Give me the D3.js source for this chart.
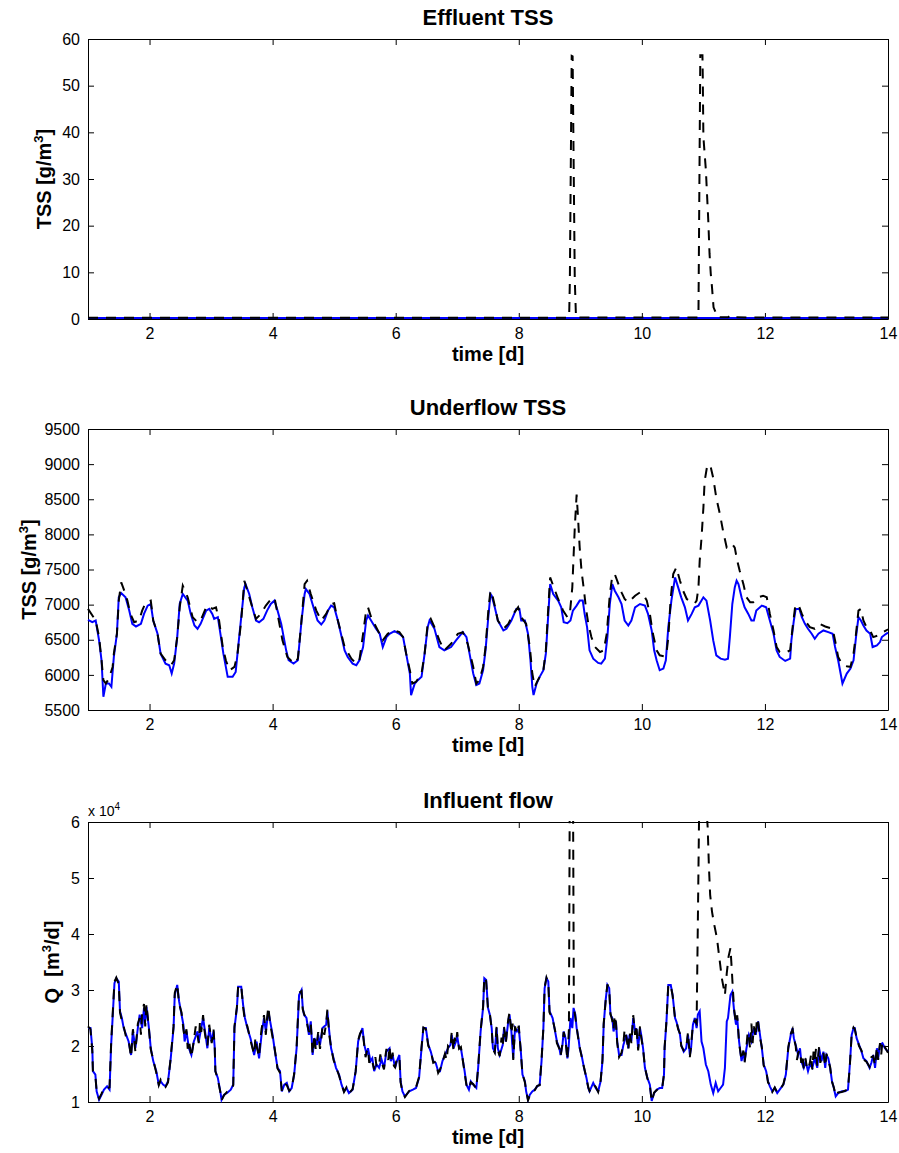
<!DOCTYPE html>
<html>
<head>
<meta charset="utf-8">
<script src="https://cdn.jsdelivr.net/npm/d3@7"></script>
<style>
  body { margin: 0; background: #fff; }
  svg { display: block; font-family: 'Liberation Sans', Arial, sans-serif; }
</style>
</head>
<body>
<div id="chart"></div>
<script>
// tick values
const timeTicks = [2, 4, 6, 8, 10, 12, 14]
const effluentTicks = [0, 10, 20, 30, 40, 50, 60]
const underflowTicks = [5500, 6000, 6500, 7000, 7500, 8000, 8500, 9000, 9500]
const flowTicks = [1, 2, 3, 4, 5, 6] // x 10^4 m3/d

// [time (d), TSS g/m3] - blue solid / black dashed
const effluentBlue = [[1, 0.2], [4, 0.2], [8.8, 0.2], [11, 0.2], [14, 0.2]]
const effluentBlack = [[1, 0.25], [8.80, 0.25], [8.82, 1.5], [8.83, 8], [8.86, 56.4], [8.875, 56.3],
  [8.91, 8.5], [8.93, 0.3], [10.91, 0.3], [10.92, 1], [10.95, 56.5], [10.985, 56.5], [10.99, 52],
  [11.0, 39], [11.04, 32], [11.08, 21], [11.10, 14], [11.12, 9.7], [11.14, 6.8], [11.165, 2.5],
  [11.23, 0.4], [11.40, 0.35], [11.45, 0.8], [11.50, 0.35], [14, 0.3]]

// [time (d), TSS g/m3]
const underflowBlue = [[1.00, 6783], [1.07, 6750], [1.125, 6774], [1.18, 6491], [1.22, 6208], [1.25, 5689],
  [1.29, 5877], [1.34, 5877], [1.38, 5830], [1.42, 6255], [1.47, 6585], [1.50, 7104], [1.54, 7165],
  [1.61, 7104], [1.67, 6915], [1.72, 6726], [1.78, 6689], [1.86, 6726], [1.91, 6868], [1.97, 6986],
  [2.02, 7009], [2.06, 6774], [2.13, 6585], [2.18, 6302], [2.26, 6160], [2.32, 6137], [2.36, 6019],
  [2.40, 6160], [2.45, 6538], [2.49, 7009], [2.54, 7151], [2.62, 7057], [2.67, 6868], [2.73, 6703],
  [2.78, 6656], [2.83, 6726], [2.92, 6915], [2.97, 6939], [3.02, 6868], [3.05, 6797], [3.11, 6821],
  [3.16, 6538], [3.20, 6302], [3.24, 6113], [3.27, 5972], [3.35, 5972], [3.40, 6042], [3.44, 6396],
  [3.49, 6821], [3.54, 7245], [3.56, 7292], [3.62, 7151], [3.67, 6962], [3.73, 6774], [3.78, 6750],
  [3.85, 6797], [3.91, 6915], [3.97, 7009], [4.03, 7057], [4.08, 6915], [4.14, 6726], [4.18, 6538],
  [4.22, 6349], [4.26, 6208], [4.34, 6160], [4.41, 6208], [4.43, 6396], [4.47, 6774], [4.52, 7151],
  [4.54, 7222], [4.60, 7151], [4.68, 6915], [4.73, 6774], [4.79, 6717], [4.84, 6774], [4.90, 6915],
  [4.95, 6986], [5.00, 6962], [5.06, 6774], [5.11, 6585], [5.17, 6349], [5.22, 6255], [5.30, 6160],
  [5.36, 6137], [5.41, 6208], [5.47, 6396], [5.52, 6774], [5.55, 6845], [5.60, 6774], [5.68, 6656],
  [5.74, 6585], [5.79, 6396], [5.85, 6538], [5.90, 6585], [5.98, 6623], [6.06, 6585], [6.12, 6538],
  [6.17, 6302], [6.23, 6019], [6.25, 5712], [6.31, 5877], [6.36, 5925], [6.42, 5972], [6.47, 6302],
  [6.52, 6680], [6.55, 6774], [6.63, 6656], [6.71, 6396], [6.79, 6349], [6.90, 6396], [6.98, 6491],
  [7.09, 6608], [7.15, 6538], [7.20, 6302], [7.26, 6019], [7.31, 5855], [7.36, 5877], [7.42, 6066],
  [7.46, 6349], [7.50, 6774], [7.54, 7151], [7.56, 7127], [7.61, 6962], [7.66, 6774], [7.75, 6632],
  [7.80, 6656], [7.88, 6774], [7.96, 6939], [8.01, 6939], [8.04, 6774], [8.10, 6774], [8.15, 6585],
  [8.19, 6208], [8.22, 5830], [8.24, 5712], [8.29, 5877], [8.34, 5972], [8.40, 6066], [8.44, 6302],
  [8.48, 6868], [8.51, 7292], [8.56, 7151], [8.64, 7057], [8.69, 6962], [8.73, 6750], [8.79, 6736],
  [8.84, 6774], [8.88, 6915], [8.94, 6986], [8.99, 7057], [9.04, 7057], [9.07, 6868], [9.11, 6679],
  [9.15, 6349], [9.21, 6231], [9.29, 6170], [9.34, 6160], [9.40, 6231], [9.44, 6538], [9.48, 7009],
  [9.52, 7292], [9.56, 7198], [9.62, 7104], [9.67, 7009], [9.72, 6774], [9.78, 6703], [9.83, 6774],
  [9.89, 6962], [9.97, 7009], [10.05, 6986], [10.10, 6868], [10.16, 6632], [10.20, 6349], [10.24, 6208],
  [10.29, 6066], [10.35, 6090], [10.39, 6208], [10.43, 6679], [10.48, 7057], [10.54, 7387], [10.59, 7245],
  [10.64, 7104], [10.70, 6962], [10.75, 6774], [10.81, 6868], [10.86, 6962], [10.92, 6986], [11.00, 7104],
  [11.05, 7057], [11.11, 6774], [11.16, 6491], [11.21, 6278], [11.28, 6231], [11.35, 6217], [11.40, 6231],
  [11.43, 6538], [11.47, 7009], [11.51, 7245], [11.54, 7340], [11.57, 7292], [11.62, 7104], [11.67, 6962],
  [11.73, 6868], [11.78, 6774], [11.82, 6774], [11.86, 6915], [11.95, 6986], [12.02, 6962], [12.08, 6774],
  [12.14, 6585], [12.19, 6349], [12.24, 6255], [12.33, 6198], [12.41, 6231], [12.43, 6491], [12.47, 6774],
  [12.50, 6939], [12.56, 6939], [12.60, 6821], [12.65, 6726], [12.70, 6656], [12.76, 6585], [12.81, 6514],
  [12.87, 6585], [12.95, 6632], [13.03, 6608], [13.10, 6585], [13.14, 6396], [13.19, 6208], [13.23, 6019],
  [13.26, 5877], [13.33, 6019], [13.39, 6090], [13.44, 6208], [13.48, 6538], [13.52, 6821], [13.56, 6774],
  [13.60, 6703], [13.65, 6632], [13.71, 6585], [13.75, 6396], [13.82, 6420], [13.87, 6467], [13.90, 6538],
  [13.97, 6585], [14.00, 6600]]

const underflowBlack = [[1.00, 6939], [1.125, 6774], [1.18, 6538], [1.22, 6208], [1.25, 5925], [1.29, 5877],
  [1.34, 5948], [1.40, 6113], [1.42, 6302], [1.47, 6585], [1.50, 7057], [1.54, 7316], [1.59, 7198],
  [1.64, 7057], [1.69, 6868], [1.75, 6750], [1.83, 6774], [1.88, 6915], [1.94, 7033], [2.02, 7057],
  [2.06, 6774], [2.13, 6585], [2.18, 6302], [2.26, 6208], [2.35, 6137], [2.40, 6208], [2.45, 6538],
  [2.49, 6962], [2.54, 7269], [2.62, 7104], [2.70, 6821], [2.78, 6750], [2.83, 6774], [2.92, 6962],
  [2.97, 6986], [3.02, 6939], [3.08, 6962], [3.13, 6774], [3.19, 6396], [3.24, 6208], [3.30, 6066],
  [3.38, 6113], [3.43, 6302], [3.49, 6774], [3.54, 7340], [3.59, 7198], [3.67, 6962], [3.73, 6797],
  [3.81, 6868], [3.89, 6986], [4.00, 7104], [4.04, 7057], [4.08, 6868], [4.16, 6491], [4.24, 6255],
  [4.35, 6160], [4.41, 6231], [4.46, 6679], [4.52, 7292], [4.56, 7340], [4.62, 7151], [4.71, 6915],
  [4.79, 6774], [4.87, 6868], [4.95, 7009], [5.00, 7019], [5.06, 6774], [5.17, 6396], [5.28, 6231],
  [5.36, 6160], [5.41, 6208], [5.47, 6585], [5.52, 6915], [5.55, 6962], [5.60, 6821], [5.71, 6632],
  [5.79, 6491], [5.87, 6585], [5.98, 6632], [6.06, 6608], [6.12, 6538], [6.17, 6302], [6.23, 6066],
  [6.27, 5877], [6.33, 5901], [6.42, 6019], [6.47, 6302], [6.52, 6726], [6.57, 6797], [6.63, 6679],
  [6.71, 6491], [6.79, 6349], [6.90, 6443], [7.01, 6585], [7.09, 6608], [7.17, 6443], [7.26, 6113],
  [7.31, 5877], [7.36, 5925], [7.42, 6113], [7.46, 6396], [7.51, 6962], [7.54, 7198], [7.56, 7175],
  [7.61, 6986], [7.66, 6774], [7.75, 6656], [7.83, 6726], [7.91, 6868], [7.99, 6962], [8.04, 6821],
  [8.12, 6726], [8.18, 6396], [8.22, 6019], [8.26, 5830], [8.31, 5925], [8.40, 6066], [8.44, 6349],
  [8.48, 6962], [8.51, 7387], [8.57, 7245], [8.64, 7080], [8.72, 6915], [8.79, 6821], [8.83, 6868],
  [8.87, 7245], [8.91, 8094], [8.94, 8566], [8.96, 8283], [8.99, 7811], [9.02, 7481], [9.06, 7198],
  [9.09, 6962], [9.13, 6726], [9.18, 6538], [9.24, 6396], [9.32, 6325], [9.38, 6349], [9.43, 6585],
  [9.48, 7151], [9.52, 7410], [9.56, 7434], [9.62, 7292], [9.67, 7175], [9.72, 7080], [9.78, 7033],
  [9.89, 7127], [9.97, 7175], [10.02, 7151], [10.08, 7057], [10.13, 6868], [10.18, 6585], [10.24, 6349],
  [10.29, 6278], [10.37, 6264], [10.40, 6302], [10.43, 6538], [10.47, 7104], [10.51, 7434], [10.56, 7528],
  [10.62, 7340], [10.67, 7198], [10.73, 7080], [10.81, 7033], [10.86, 7019], [10.89, 7057], [10.92, 7245],
  [10.94, 7623], [10.97, 7953], [11.00, 8377], [11.02, 8755], [11.06, 8967], [11.11, 8991], [11.16, 8802],
  [11.21, 8519], [11.27, 8283], [11.32, 8047], [11.38, 7811], [11.42, 7811], [11.47, 7858], [11.51, 7811],
  [11.55, 7623], [11.59, 7481], [11.65, 7292], [11.70, 7104], [11.76, 7033], [11.81, 7033], [11.89, 7104],
  [11.97, 7127], [12.03, 7104], [12.08, 6868], [12.14, 6632], [12.19, 6396], [12.24, 6325], [12.35, 6325],
  [12.41, 6349], [12.45, 6679], [12.49, 6962], [12.54, 7009], [12.60, 6868], [12.65, 6774], [12.73, 6679],
  [12.81, 6656], [12.89, 6726], [12.98, 6689], [13.10, 6656], [13.14, 6491], [13.19, 6255], [13.25, 6160],
  [13.33, 6123], [13.39, 6113], [13.44, 6302], [13.48, 6585], [13.52, 6915], [13.56, 6939], [13.60, 6774],
  [13.65, 6679], [13.71, 6632], [13.76, 6538], [13.84, 6561], [13.92, 6608], [13.97, 6632], [14.00, 6650]]

// [time (d), Q x 10^4 m3/d]
const flowBlue = [[1.00, 2.32], [1.04, 2.32], [1.07, 1.96], [1.08, 1.55], [1.12, 1.49], [1.14, 1.19],
  [1.18, 1.04], [1.22, 1.13], [1.26, 1.22], [1.31, 1.28], [1.35, 1.22], [1.376, 2.02], [1.40, 2.50],
  [1.43, 3.12], [1.46, 3.21], [1.50, 3.15], [1.52, 2.62], [1.55, 2.50], [1.58, 2.32], [1.62, 2.20],
  [1.66, 2.08], [1.70, 1.84], [1.73, 2.26], [1.77, 1.96], [1.81, 2.32], [1.84, 2.56], [1.88, 2.32],
  [1.91, 2.68], [1.93, 2.44], [1.95, 2.70], [1.99, 2.32], [2.02, 1.96], [2.06, 1.73], [2.11, 1.55],
  [2.15, 1.31], [2.18, 1.37], [2.22, 1.31], [2.26, 1.28], [2.30, 1.37], [2.34, 1.73], [2.39, 2.32],
  [2.41, 2.91], [2.45, 3.09], [2.48, 2.80], [2.52, 2.56], [2.55, 2.38], [2.57, 2.08], [2.60, 2.26],
  [2.64, 1.96], [2.68, 1.84], [2.72, 2.08], [2.78, 2.26], [2.80, 2.08], [2.84, 2.32], [2.87, 2.50],
  [2.91, 2.20], [2.94, 1.96], [2.97, 2.32], [3.01, 2.08], [3.04, 2.26], [3.06, 1.96], [3.07, 1.55],
  [3.11, 1.43], [3.15, 1.19], [3.17, 1.04], [3.21, 1.13], [3.26, 1.16], [3.32, 1.22], [3.36, 1.31],
  [3.38, 2.32], [3.42, 2.68], [3.44, 3.06], [3.49, 3.06], [3.52, 2.74], [3.55, 2.50], [3.59, 2.32],
  [3.64, 2.14], [3.70, 1.84], [3.74, 2.08], [3.78, 1.78], [3.82, 2.20], [3.86, 2.50], [3.89, 2.26],
  [3.93, 2.62], [3.96, 2.44], [4.00, 2.20], [4.03, 1.96], [4.08, 1.61], [4.12, 1.55], [4.15, 1.19],
  [4.19, 1.31], [4.23, 1.34], [4.27, 1.19], [4.31, 1.25], [4.35, 1.49], [4.39, 1.96], [4.43, 2.91],
  [4.47, 3.00], [4.49, 2.68], [4.51, 2.56], [4.55, 2.50], [4.59, 2.20], [4.62, 2.44], [4.65, 1.84],
  [4.68, 2.14], [4.72, 2.02], [4.74, 2.20], [4.77, 2.02], [4.81, 2.32], [4.87, 2.38], [4.89, 2.62],
  [4.92, 2.26], [4.95, 1.96], [4.99, 1.78], [5.03, 1.61], [5.08, 1.49], [5.12, 1.31], [5.16, 1.19],
  [5.20, 1.25], [5.24, 1.16], [5.30, 1.22], [5.35, 1.55], [5.39, 2.08], [5.42, 2.20], [5.46, 2.32],
  [5.49, 2.02], [5.53, 1.84], [5.55, 1.96], [5.59, 1.73], [5.62, 1.78], [5.65, 1.55], [5.69, 1.67],
  [5.73, 1.61], [5.77, 1.76], [5.81, 1.61], [5.85, 1.90], [5.90, 1.96], [5.92, 1.73], [5.95, 1.84],
  [5.99, 1.61], [6.02, 1.73], [6.06, 1.84], [6.08, 1.37], [6.11, 1.19], [6.15, 1.10], [6.22, 1.19],
  [6.28, 1.22], [6.33, 1.25], [6.38, 1.43], [6.42, 1.96], [6.45, 2.32], [6.49, 2.32], [6.53, 2.02],
  [6.57, 1.90], [6.61, 1.73], [6.65, 1.70], [6.69, 1.55], [6.72, 1.55], [6.76, 1.73], [6.80, 1.84],
  [6.85, 1.96], [6.89, 2.02], [6.91, 2.20], [6.94, 1.96], [6.98, 2.08], [7.00, 2.17], [7.03, 1.96],
  [7.06, 1.96], [7.12, 1.55], [7.15, 1.31], [7.19, 1.22], [7.22, 1.37], [7.26, 1.31], [7.31, 1.25],
  [7.34, 1.61], [7.38, 2.26], [7.42, 2.68], [7.44, 3.21], [7.47, 3.18], [7.50, 2.68], [7.53, 2.56],
  [7.56, 2.32], [7.58, 1.96], [7.61, 1.90], [7.64, 2.32], [7.66, 1.96], [7.69, 1.84], [7.74, 2.02],
  [7.76, 2.32], [7.79, 2.08], [7.83, 2.44], [7.85, 2.56], [7.88, 2.26], [7.91, 1.78], [7.94, 2.32],
  [7.97, 2.26], [8.00, 2.32], [8.03, 1.96], [8.06, 1.49], [8.10, 1.37], [8.12, 1.19], [8.15, 1.04],
  [8.18, 1.13], [8.22, 1.19], [8.26, 1.22], [8.30, 1.28], [8.34, 1.31], [8.37, 1.73], [8.40, 2.32],
  [8.42, 3.03], [8.45, 3.21], [8.48, 3.15], [8.50, 2.62], [8.55, 2.50], [8.59, 2.26], [8.62, 2.08],
  [8.66, 1.96], [8.68, 1.84], [8.71, 2.02], [8.73, 2.26], [8.76, 2.14], [8.79, 1.78], [8.81, 1.96],
  [8.84, 2.50], [8.87, 2.32], [8.89, 2.68], [8.92, 2.56], [8.94, 2.32], [8.97, 2.14], [8.99, 1.96],
  [9.02, 1.84], [9.06, 1.61], [9.10, 1.43], [9.13, 1.25], [9.15, 1.19], [9.21, 1.34], [9.25, 1.25],
  [9.29, 1.19], [9.33, 1.37], [9.36, 1.73], [9.38, 2.38], [9.41, 2.80], [9.44, 3.09], [9.47, 3.03],
  [9.49, 2.56], [9.52, 2.50], [9.54, 2.26], [9.58, 2.44], [9.60, 2.08], [9.63, 1.84], [9.67, 1.84],
  [9.70, 2.02], [9.75, 2.20], [9.78, 1.96], [9.80, 2.20], [9.83, 2.08], [9.86, 2.50], [9.89, 2.26],
  [9.91, 2.32], [9.94, 1.96], [9.97, 2.32], [9.99, 2.20], [10.02, 1.96], [10.05, 1.61], [10.09, 1.43],
  [10.13, 1.31], [10.16, 1.02], [10.20, 1.16], [10.24, 1.22], [10.29, 1.25], [10.33, 1.25], [10.36, 1.49],
  [10.37, 1.96], [10.40, 2.44], [10.43, 3.09], [10.47, 3.09], [10.50, 2.91], [10.54, 2.50], [10.56, 2.44],
  [10.59, 2.32], [10.62, 2.20], [10.64, 2.02], [10.68, 1.90], [10.72, 1.96], [10.75, 2.20], [10.78, 1.84],
  [10.80, 1.96], [10.83, 2.38], [10.86, 2.50], [10.89, 2.32], [10.91, 2.56], [10.94, 2.62], [10.97, 2.08],
  [11.00, 1.96], [11.04, 1.67], [11.08, 1.55], [11.12, 1.31], [11.16, 1.16], [11.20, 1.34], [11.24, 1.19],
  [11.28, 1.25], [11.32, 1.31], [11.35, 1.61], [11.38, 2.44], [11.40, 2.50], [11.44, 2.91], [11.47, 2.97],
  [11.50, 2.62], [11.53, 2.38], [11.55, 2.50], [11.58, 2.08], [11.62, 1.73], [11.65, 1.90], [11.67, 1.73],
  [11.70, 1.96], [11.74, 2.20], [11.78, 2.08], [11.82, 2.32], [11.85, 2.20], [11.89, 2.44], [11.92, 2.20],
  [11.95, 1.96], [11.98, 1.67], [12.02, 1.55], [12.05, 1.37], [12.08, 1.28], [12.12, 1.19], [12.16, 1.25],
  [12.20, 1.16], [12.24, 1.22], [12.30, 1.31], [12.34, 1.49], [12.38, 1.96], [12.42, 2.20], [12.45, 2.32],
  [12.47, 2.14], [12.50, 2.02], [12.54, 1.84], [12.57, 1.96], [12.59, 1.73], [12.63, 1.61], [12.66, 1.73],
  [12.70, 1.55], [12.73, 1.67], [12.77, 1.61], [12.81, 1.78], [12.85, 1.61], [12.88, 1.96], [12.92, 1.73],
  [12.95, 1.90], [12.98, 1.61], [13.00, 1.84], [13.03, 1.78], [13.06, 1.61], [13.09, 1.37], [13.12, 1.25],
  [13.15, 1.10], [13.19, 1.16], [13.25, 1.19], [13.30, 1.19], [13.35, 1.22], [13.38, 1.67], [13.41, 2.20],
  [13.44, 2.32], [13.46, 2.32], [13.49, 2.14], [13.53, 2.02], [13.57, 1.90], [13.60, 1.78], [13.65, 1.73],
  [13.70, 1.61], [13.73, 1.70], [13.76, 1.84], [13.79, 1.61], [13.82, 1.96], [13.84, 1.78], [13.87, 2.02],
  [13.91, 2.05], [13.95, 1.96], [14.00, 1.90]]

const flowBlack = [[1.00, 2.35], [1.04, 2.30], [1.07, 1.90], [1.08, 1.55], [1.12, 1.46], [1.14, 1.20],
  [1.18, 1.06], [1.22, 1.15], [1.26, 1.25], [1.31, 1.24], [1.35, 1.26], [1.376, 2.05], [1.40, 2.55],
  [1.43, 3.15], [1.46, 3.22], [1.50, 3.10], [1.52, 2.60], [1.55, 2.45], [1.58, 2.35], [1.62, 2.15],
  [1.66, 2.10], [1.70, 1.80], [1.73, 2.30], [1.77, 1.90], [1.81, 2.40], [1.84, 2.50], [1.86, 2.20],
  [1.88, 2.60], [1.91, 2.75], [1.93, 2.35], [1.95, 2.75], [1.99, 2.30], [2.02, 1.94], [2.06, 1.75],
  [2.11, 1.52], [2.15, 1.30], [2.18, 1.40], [2.22, 1.33], [2.26, 1.27], [2.30, 1.35], [2.34, 1.75],
  [2.39, 2.35], [2.41, 2.95], [2.45, 3.10], [2.48, 2.75], [2.52, 2.60], [2.55, 2.30], [2.57, 2.15],
  [2.60, 2.30], [2.62, 1.95], [2.64, 2.10], [2.68, 1.80], [2.72, 2.10], [2.75, 2.35], [2.78, 2.20],
  [2.80, 2.05], [2.82, 2.45], [2.84, 2.25], [2.87, 2.55], [2.89, 2.30], [2.91, 2.15], [2.94, 2.00],
  [2.97, 2.38], [3.01, 2.05], [3.04, 2.30], [3.06, 1.95], [3.07, 1.55], [3.11, 1.40], [3.15, 1.18],
  [3.17, 1.03], [3.21, 1.12], [3.26, 1.18], [3.32, 1.20], [3.36, 1.30], [3.38, 2.35], [3.42, 2.70],
  [3.44, 3.08], [3.49, 3.08], [3.52, 2.70], [3.55, 2.45], [3.59, 2.35], [3.64, 2.10], [3.70, 1.85],
  [3.72, 2.15], [3.74, 2.00], [3.78, 1.80], [3.80, 2.10], [3.82, 2.30], [3.86, 2.55], [3.89, 2.20],
  [3.91, 2.50], [3.93, 2.70], [3.96, 2.40], [4.00, 2.15], [4.03, 1.98], [4.08, 1.60], [4.12, 1.52],
  [4.15, 1.20], [4.19, 1.33], [4.23, 1.30], [4.27, 1.20], [4.31, 1.24], [4.35, 1.50], [4.39, 1.98],
  [4.43, 2.95], [4.47, 2.98], [4.49, 2.65], [4.51, 2.58], [4.55, 2.45], [4.59, 2.25], [4.62, 2.40],
  [4.65, 1.85], [4.68, 2.20], [4.70, 1.95], [4.72, 2.05], [4.74, 2.25], [4.77, 1.95], [4.79, 2.10],
  [4.81, 2.35], [4.84, 2.20], [4.87, 2.40], [4.89, 2.65], [4.92, 2.20], [4.95, 1.98], [4.99, 1.75],
  [5.03, 1.63], [5.08, 1.47], [5.12, 1.32], [5.16, 1.18], [5.20, 1.26], [5.24, 1.15], [5.30, 1.23],
  [5.35, 1.55], [5.39, 2.10], [5.42, 2.22], [5.46, 2.30], [5.49, 2.00], [5.51, 1.80], [5.53, 1.90],
  [5.55, 1.95], [5.57, 1.70], [5.59, 1.78], [5.62, 1.72], [5.65, 1.58], [5.67, 1.80], [5.69, 1.62],
  [5.73, 1.66], [5.75, 1.85], [5.77, 1.70], [5.79, 1.65], [5.81, 1.58], [5.83, 1.80], [5.85, 1.95],
  [5.88, 1.75], [5.90, 2.00], [5.92, 1.70], [5.95, 1.88], [5.97, 1.65], [5.99, 1.62], [6.02, 1.78],
  [6.06, 1.80], [6.08, 1.35], [6.11, 1.18], [6.15, 1.09], [6.22, 1.20], [6.28, 1.21], [6.33, 1.26],
  [6.38, 1.45], [6.42, 1.98], [6.45, 2.33], [6.49, 2.30], [6.53, 2.00], [6.57, 1.92], [6.61, 1.70],
  [6.65, 1.72], [6.69, 1.52], [6.72, 1.58], [6.76, 1.70], [6.80, 1.86], [6.83, 1.75], [6.85, 2.00],
  [6.89, 1.95], [6.91, 2.25], [6.94, 1.92], [6.96, 2.15], [6.98, 2.05], [7.00, 2.25], [7.03, 1.95],
  [7.06, 1.98], [7.12, 1.52], [7.15, 1.30], [7.19, 1.23], [7.22, 1.35], [7.26, 1.32], [7.31, 1.24],
  [7.34, 1.62], [7.38, 2.28], [7.42, 2.70], [7.44, 3.23], [7.47, 3.16], [7.50, 2.65], [7.53, 2.58],
  [7.56, 2.30], [7.58, 1.94], [7.61, 1.88], [7.63, 2.20], [7.64, 2.35], [7.66, 1.92], [7.69, 1.82],
  [7.72, 2.15], [7.74, 1.98], [7.76, 2.35], [7.79, 2.05], [7.81, 2.30], [7.83, 2.48], [7.85, 2.60],
  [7.88, 2.22], [7.90, 2.40], [7.91, 1.75], [7.94, 2.35], [7.97, 2.22], [8.00, 2.36], [8.03, 1.94],
  [8.06, 1.50], [8.10, 1.35], [8.12, 1.20], [8.15, 1.03], [8.18, 1.12], [8.22, 1.20], [8.26, 1.21],
  [8.30, 1.29], [8.34, 1.30], [8.37, 1.75], [8.40, 2.33], [8.42, 3.05], [8.45, 3.22], [8.48, 3.12],
  [8.50, 2.60], [8.55, 2.48], [8.59, 2.28], [8.62, 2.05], [8.66, 1.95], [8.68, 1.82], [8.71, 2.05],
  [8.73, 2.25], [8.76, 2.10], [8.79, 1.75], [8.80, 2.00], [8.815, 2.30], [8.83, 7.0], [8.88, 7.0],
  [8.895, 2.70], [8.92, 2.50], [8.94, 2.35], [8.97, 2.10], [8.99, 1.98], [9.02, 1.82], [9.06, 1.62],
  [9.10, 1.42], [9.13, 1.26], [9.15, 1.20], [9.21, 1.32], [9.25, 1.27], [9.29, 1.18], [9.33, 1.38],
  [9.36, 1.75], [9.38, 2.40], [9.41, 2.78], [9.44, 3.10], [9.47, 3.00], [9.49, 2.58], [9.52, 2.45],
  [9.54, 2.30], [9.56, 2.55], [9.58, 2.40], [9.60, 2.05], [9.63, 1.80], [9.67, 1.88], [9.70, 2.05],
  [9.72, 2.30], [9.75, 2.15], [9.78, 1.92], [9.80, 2.25], [9.83, 2.05], [9.86, 2.55], [9.89, 2.20],
  [9.91, 2.38], [9.94, 1.92], [9.97, 2.35], [9.99, 2.15], [10.02, 1.95], [10.05, 1.62], [10.09, 1.42],
  [10.13, 1.30], [10.16, 1.01], [10.20, 1.17], [10.24, 1.21], [10.29, 1.26], [10.33, 1.24], [10.36, 1.50],
  [10.37, 1.98], [10.40, 2.45], [10.43, 3.10], [10.47, 3.08], [10.50, 2.90], [10.54, 2.48], [10.56, 2.45],
  [10.59, 2.30], [10.62, 2.22], [10.64, 2.00], [10.68, 1.92], [10.72, 1.95], [10.75, 2.25], [10.78, 1.80],
  [10.80, 2.00], [10.83, 2.40], [10.86, 2.45], [10.89, 2.40], [10.91, 4.2], [10.93, 6.1], [10.96, 6.4],
  [11.04, 6.4], [11.07, 5.9], [11.09, 5.2], [11.11, 4.7], [11.14, 4.4], [11.17, 4.2], [11.22, 3.93],
  [11.26, 3.57], [11.30, 3.21], [11.35, 2.91], [11.38, 3.30], [11.41, 3.60], [11.44, 3.75], [11.46, 3.39],
  [11.48, 3.00], [11.50, 2.65], [11.53, 2.40], [11.55, 2.55], [11.58, 2.05], [11.62, 1.75], [11.65, 1.92],
  [11.67, 1.70], [11.70, 2.00], [11.72, 2.25], [11.74, 2.15], [11.76, 1.95], [11.78, 2.40], [11.80, 2.05],
  [11.82, 2.35], [11.85, 2.15], [11.87, 2.50], [11.89, 2.42], [11.92, 2.15], [11.95, 1.98], [11.98, 1.65],
  [12.02, 1.57], [12.05, 1.35], [12.08, 1.30], [12.12, 1.18], [12.16, 1.26], [12.20, 1.17], [12.24, 1.21],
  [12.30, 1.32], [12.34, 1.50], [12.38, 1.98], [12.42, 2.22], [12.45, 2.30], [12.47, 2.15], [12.50, 2.00],
  [12.52, 1.75], [12.54, 1.88], [12.57, 1.92], [12.59, 1.70], [12.61, 1.85], [12.63, 1.60], [12.66, 1.78],
  [12.68, 1.62], [12.70, 1.58], [12.73, 1.70], [12.75, 1.85], [12.77, 1.58], [12.79, 1.90], [12.81, 1.75],
  [12.83, 1.95], [12.85, 1.65], [12.88, 1.98], [12.90, 1.70], [12.92, 1.78], [12.95, 1.88], [12.98, 1.64],
  [13.00, 1.86], [13.03, 1.75], [13.06, 1.62], [13.09, 1.36], [13.12, 1.26], [13.15, 1.11], [13.19, 1.17],
  [13.25, 1.18], [13.30, 1.20], [13.35, 1.23], [13.38, 1.65], [13.41, 2.22], [13.44, 2.33], [13.46, 2.30],
  [13.49, 2.15], [13.53, 2.00], [13.57, 1.92], [13.60, 1.76], [13.65, 1.72], [13.70, 1.63], [13.73, 1.80],
  [13.76, 1.82], [13.79, 1.65], [13.82, 1.98], [13.84, 1.75], [13.87, 2.05], [13.89, 1.85], [13.91, 2.08],
  [13.95, 1.98], [14.00, 1.88]]

const width = 899
const height = 1153
const left = 88
const right = 888

const svg = d3.select('#chart').append('svg')
  .attr('width', width)
  .attr('height', height)
  .attr('viewBox', '0 0 ' + width + ' ' + height)

svg.append('rect').attr('width', width).attr('height', height).attr('fill', '#fff')

const x = d3.scaleLinear().domain([1, 14]).range([left, right])

// labelX: where the rotated y-label sits (MATLAB moves it past the tick labels)
const panels = [
  {id: 'eff', title: 'Effluent TSS', label: ['TSS [g/m', '3', ']'], labelX: 51, top: 39, bottom: 319,
    domain: [0, 60], ticks: effluentTicks, blue: effluentBlue, black: effluentBlack},
  {id: 'under', title: 'Underflow TSS', label: ['TSS [g/m', '3', ']'], labelX: 36, top: 429, bottom: 710,
    domain: [5500, 9500], ticks: underflowTicks, blue: underflowBlue, black: underflowBlack},
  {id: 'flow', title: 'Influent flow', label: ['Q  [m', '3', '/d]'], labelX: 59, top: 822, bottom: 1102,
    domain: [1, 6], ticks: flowTicks, blue: flowBlue, black: flowBlack, exponent: '4'}
]

let styleAxis = g => {
  g.attr('font-size', 16).attr('font-family', null)
  g.selectAll('.domain').attr('stroke', '#000').attr('stroke-width', 1)
  g.selectAll('.tick line').attr('stroke', '#000').attr('stroke-width', 1)
  g.selectAll('.tick text').attr('fill', '#000')
}

const plain = d => String(d)

panels.forEach(p => {
  let y = d3.scaleLinear().domain(p.domain).range([p.bottom, p.top])
  let g = svg.append('g').attr('class', 'panel-' + p.id)

  svg.append('clipPath').attr('id', 'clip-' + p.id).append('rect')
    .attr('x', left - 1)
    .attr('y', p.top - 1)
    .attr('width', right - left + 2)
    .attr('height', p.bottom - p.top + 2)

  // axes: ticks pointing inward on all four sides
  g.append('g').attr('transform', `translate(0,${p.bottom})`)
    .call(d3.axisBottom(x).tickValues(timeTicks).tickFormat(plain).tickSizeInner(-6).tickSizeOuter(0).tickPadding(9))
    .call(styleAxis)
  g.append('g').attr('transform', `translate(0,${p.top})`)
    .call(d3.axisTop(x).tickValues(timeTicks).tickSizeInner(-6).tickSizeOuter(0).tickFormat(''))
    .call(styleAxis)
  g.append('g').attr('transform', `translate(${left},0)`)
    .call(d3.axisLeft(y).tickValues(p.ticks).tickFormat(plain).tickSizeInner(-6).tickSizeOuter(0).tickPadding(8))
    .call(styleAxis)
  g.append('g').attr('transform', `translate(${right},0)`)
    .call(d3.axisRight(y).tickValues(p.ticks).tickSizeInner(-6).tickSizeOuter(0).tickFormat(''))
    .call(styleAxis)

  let line = d3.line().x(d => x(d[0])).y(d => y(d[1]))
  let plot = g.append('g').attr('clip-path', `url(#clip-${p.id})`)
  plot.append('path').datum(p.blue)
    .attr('d', line)
    .attr('fill', 'none')
    .attr('stroke', '#0000ff')
    .attr('stroke-width', 2)
  plot.append('path').datum(p.black)
    .attr('d', line)
    .attr('fill', 'none')
    .attr('stroke', '#000')
    .attr('stroke-width', 2)
    .attr('stroke-dasharray', '10,8')

  g.append('text')
    .attr('x', (left + right) / 2)
    .attr('y', p.top - 14)
    .attr('text-anchor', 'middle')
    .attr('font-size', 22)
    .attr('font-weight', 'bold')
    .text(p.title)

  g.append('text')
    .attr('x', (left + right) / 2)
    .attr('y', p.bottom + 42)
    .attr('text-anchor', 'middle')
    .attr('font-size', 20)
    .attr('font-weight', 'bold')
    .text('time [d]')

  let ylab = g.append('text')
    .attr('transform', `translate(${p.labelX},${(p.top + p.bottom) / 2}) rotate(-90)`)
    .attr('text-anchor', 'middle')
    .attr('font-size', 20)
    .attr('font-weight', 'bold')
    .attr('xml:space', 'preserve')
  ylab.append('tspan').text(p.label[0])
  ylab.append('tspan').attr('font-size', 13).attr('dy', -8).text(p.label[1])
  ylab.append('tspan').attr('dy', 8).text(p.label[2])

  if (p.exponent) {
    let ex = g.append('text')
      .attr('x', left)
      .attr('y', p.top - 6)
      .attr('font-size', 14)
    ex.append('tspan').text('x 10')
    ex.append('tspan').attr('font-size', 10).attr('dy', -6).text(p.exponent)
  }
})
</script>
</body>
</html>
